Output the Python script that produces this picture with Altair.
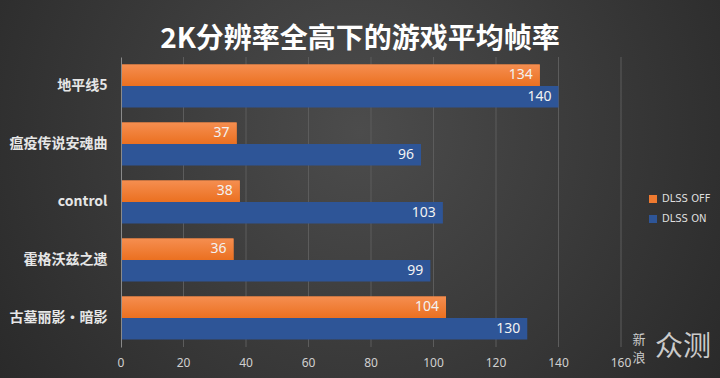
import altair as alt
import pandas as pd

games = ["地平线5", "瘟疫传说安魂曲", "control", "霍格沃兹之遗", "古墓丽影·暗影"]
dlss_off = [134, 37, 38, 36, 104]
dlss_on = [140, 96, 103, 99, 130]
series = ["DLSS OFF", "DLSS ON"]
colors = ["#EE7A30", "#2E5597"]
x_ticks = [0, 20, 40, 60, 80, 100, 120, 140, 160]
title_text = "2K分辨率全高下的游戏平均帧率"

rows = []
for g, off, on in zip(games, dlss_off, dlss_on):
    rows.append({"game": g, "series": series[0], "fps": off})
    rows.append({"game": g, "series": series[1], "fps": on})
df = pd.DataFrame(rows)

W, H = 500, 290
PL, PT = 121, 57
xscale = alt.Scale(domain=[0, 160])

bg = alt.Chart(pd.DataFrame({"a": [0]})).mark_rect(
    fill={
        "gradient": "radial",
        "stops": [
            {"offset": 0, "color": "#4c4c4c"},
            {"offset": 1, "color": "#202020"},
        ],
        "x1": 0.5, "y1": 0.42, "x2": 0.5, "y2": 0.42, "r1": 0, "r2": 0.78,
    }
).encode(
    x=alt.value(-PL), x2=alt.value(720 - PL), y=alt.value(-PT), y2=alt.value(378 - PT)
)

grid = alt.Chart(pd.DataFrame({"g": x_ticks[1:]})).mark_rule(
    color="#5c5c5c", strokeWidth=1
).encode(
    x=alt.X("g:Q", scale=xscale, axis=None),
    y=alt.value(0),
    y2=alt.value(H),
)

xlabels = alt.Chart(pd.DataFrame({"v": x_ticks})).mark_text(
    color="#d0d0d0", fontSize=12, font="Noto Sans", baseline="middle"
).encode(
    x=alt.X("v:Q", scale=xscale, axis=None),
    y=alt.value(H + 16),
    text=alt.Text("v:Q"),
)

base = alt.Chart(df).encode(
    y=alt.Y(
        "game:N",
        sort=games,
        scale=alt.Scale(paddingInner=0.26, paddingOuter=0.13),
        axis=alt.Axis(
            title=None,
            labelColor="#e6e6e6",
            labelFontSize=14,
            labelFont="Noto Sans CJK SC",
            labelFontWeight="bold",
            labelPadding=14,
            ticks=False,
            domain=True,
            domainColor="#8a8a8a",
            domainWidth=1,
            zindex=1,
        ),
    ),
    yOffset=alt.YOffset("series:N", sort=series),
)

bars = base.mark_bar().encode(
    x=alt.X(
        "fps:Q",
        scale=xscale,
        axis=alt.Axis(title=None, labels=False, grid=False, domain=False, ticks=False),
    ),
    color=alt.Color(
        "series:N",
        scale=alt.Scale(domain=series, range=colors),
        legend=alt.Legend(
            title=None,
            orient="none",
            legendX=527,
            legendY=137,
            symbolType="square",
            symbolSize=64,
            symbolStrokeWidth=0,
            labelColor="#dddddd",
            labelFontSize=10,
            labelFont="DejaVu Sans",
            rowPadding=10,
        ),
    ),
)

orange_grad = base.transform_filter(
    alt.datum.series == series[0]
).mark_bar(
    fill={
        "gradient": "linear",
        "x1": 0, "y1": 0, "x2": 0, "y2": 1,
        "stops": [
            {"offset": 0, "color": "#F58E50"},
            {"offset": 1, "color": "#EB7020"},
        ],
    }
).encode(x=alt.X("fps:Q", scale=xscale))

labels = base.mark_text(
    align="right", dx=-7, color="#f2f2f2", fontSize=14, font="Noto Sans"
).encode(x="fps:Q", text="fps:Q")

title = alt.Chart(pd.DataFrame({"t": [title_text]})).mark_text(
    fontSize=28, font="Noto Sans CJK SC", fontWeight="bold", color="#ffffff",
    align="center", baseline="middle"
).encode(x=alt.value(360 - PL), y=alt.value(40 - PT), text="t:N")

wm1 = alt.Chart(pd.DataFrame({"t": ["众测"]})).mark_text(
    fontSize=28, font="Noto Sans CJK SC", color="#dcdcdc", opacity=0.9, align="left", baseline="middle"
).encode(x=alt.value(655 - PL), y=alt.value(348 - PT), text="t:N")
wm2 = alt.Chart(pd.DataFrame({"t": ["新"]})).mark_text(
    fontSize=13, font="Noto Sans CJK SC", color="#dcdcdc", opacity=0.9
).encode(x=alt.value(639 - PL), y=alt.value(340 - PT), text="t:N")
wm3 = alt.Chart(pd.DataFrame({"t": ["浪"]})).mark_text(
    fontSize=13, font="Noto Sans CJK SC", color="#dcdcdc", opacity=0.9
).encode(x=alt.value(639 - PL), y=alt.value(358 - PT), text="t:N")

chart = alt.layer(bg, grid, bars, orange_grad, labels, xlabels, title, wm1, wm2, wm3).properties(
    width=W,
    height=H,
    autosize=alt.AutoSizeParams(type="none"),
    padding={"left": PL, "top": PT, "right": 720 - PL - W, "bottom": 378 - PT - H},
    background="#2b2b2b",
).configure_view(stroke=None)

chart.save("out.html", embed_options={"renderer": "svg", "actions": False})
